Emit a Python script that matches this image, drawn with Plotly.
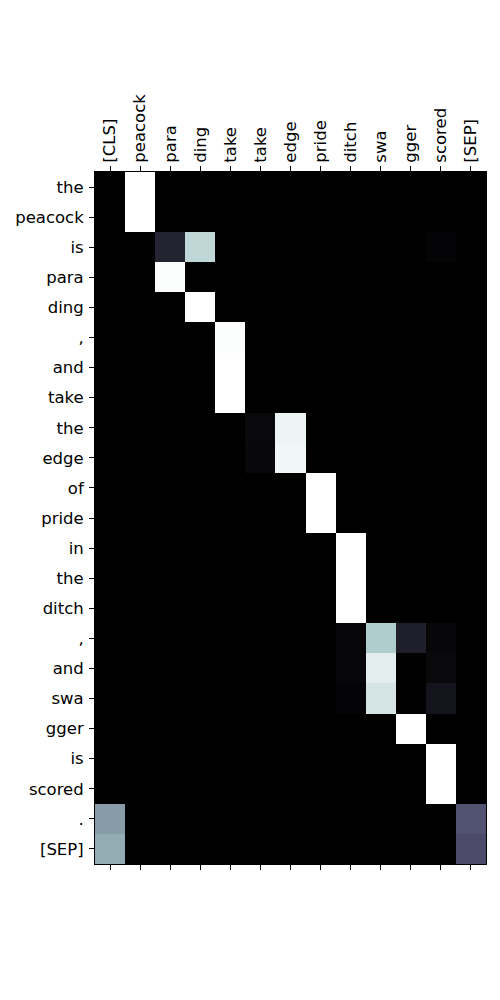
import plotly.graph_objects as go

col_labels = ["[CLS]", "peacock", "para", "ding", "take", "take", "edge", "pride",
              "ditch", "swa", "gger", "scored", "[SEP]"]
row_labels = ["the", "peacock", "is", "para", "ding", ",", "and", "take", "the", "edge",
              "of", "pride", "in", "the", "ditch", ",", "and", "swa", "gger", "is",
              "scored", ".", "[SEP]"]

# attention weights per row: (column index, value); other cells are ~0
row_weights = [
    {1: 1.0},
    {1: 1.0},
    {2: 0.16, 3: 0.82, 11: 0.02},
    {2: 0.99},
    {3: 1.0},
    {4: 0.99},
    {4: 1.0},
    {4: 1.0},
    {5: 0.04, 6: 0.95},
    {5: 0.035, 6: 0.96},
    {7: 1.0},
    {7: 1.0},
    {8: 1.0},
    {8: 1.0},
    {8: 1.0},
    {8: 0.03, 9: 0.775, 10: 0.14, 11: 0.03},
    {8: 0.03, 9: 0.92, 11: 0.04},
    {8: 0.02, 9: 0.88, 11: 0.09},
    {10: 1.0},
    {11: 1.0},
    {11: 1.0},
    {0: 0.61, 12: 0.37},
    {0: 0.66, 12: 0.34},
]

z = [[row.get(j, 0.0) for j in range(len(col_labels))] for row in row_weights]

# matplotlib "bone" colormap breakpoints
bone = [
    [0.0, "rgb(0,0,0)"],
    [0.365079, "rgb(81,81,113)"],
    [0.746032, "rgb(166,198,198)"],
    [1.0, "rgb(255,255,255)"],
]

ncol = len(col_labels)
nrow = len(row_labels)
font = dict(family="DejaVu Sans", size=16.5, color="black")

fig = go.Figure()
fig.add_trace(go.Heatmap(
    z=z,
    x=list(range(ncol)),
    y=list(range(nrow)),
    colorscale=bone,
    zmin=0, zmax=1,
    showscale=False,
    hoverinfo="skip",
))
fig.add_trace(go.Scatter(x=[None], y=[None], xaxis="x2", yaxis="y",
                         showlegend=False, hoverinfo="skip"))

fig.update_layout(
    width=500, height=1000,
    margin=dict(l=94.5, r=14.3, t=171.5, b=136, pad=0),
    paper_bgcolor="white", plot_bgcolor="white",
    font=font,
    showlegend=False,
    xaxis=dict(
        side="top",
        range=[-0.5, ncol - 0.5],
        tickmode="array",
        tickvals=list(range(ncol)),
        ticktext=col_labels,
        tickangle=-90,
        ticks="outside", ticklen=5, tickwidth=1, tickcolor="black",
        showgrid=False, zeroline=False,
        showline=True, linecolor="black", linewidth=1, mirror=True,
        tickfont=font,
    ),
    xaxis2=dict(
        overlaying="x",
        side="bottom",
        range=[-0.5, ncol - 0.5],
        tickmode="array",
        tickvals=list(range(ncol)),
        showticklabels=False,
        ticks="outside", ticklen=5, tickwidth=1, tickcolor="black",
        showgrid=False, zeroline=False,
        showline=False,
    ),
    yaxis=dict(
        range=[nrow - 0.5, -0.5],
        tickmode="array",
        tickvals=list(range(nrow)),
        ticktext=row_labels,
        ticks="outside", ticklen=5, tickwidth=1, tickcolor="black",
        ticklabelstandoff=2,
        showgrid=False, zeroline=False,
        showline=True, linecolor="black", linewidth=1, mirror=True,
        tickfont=font,
    ),
)

fig.write_html("out.html")
